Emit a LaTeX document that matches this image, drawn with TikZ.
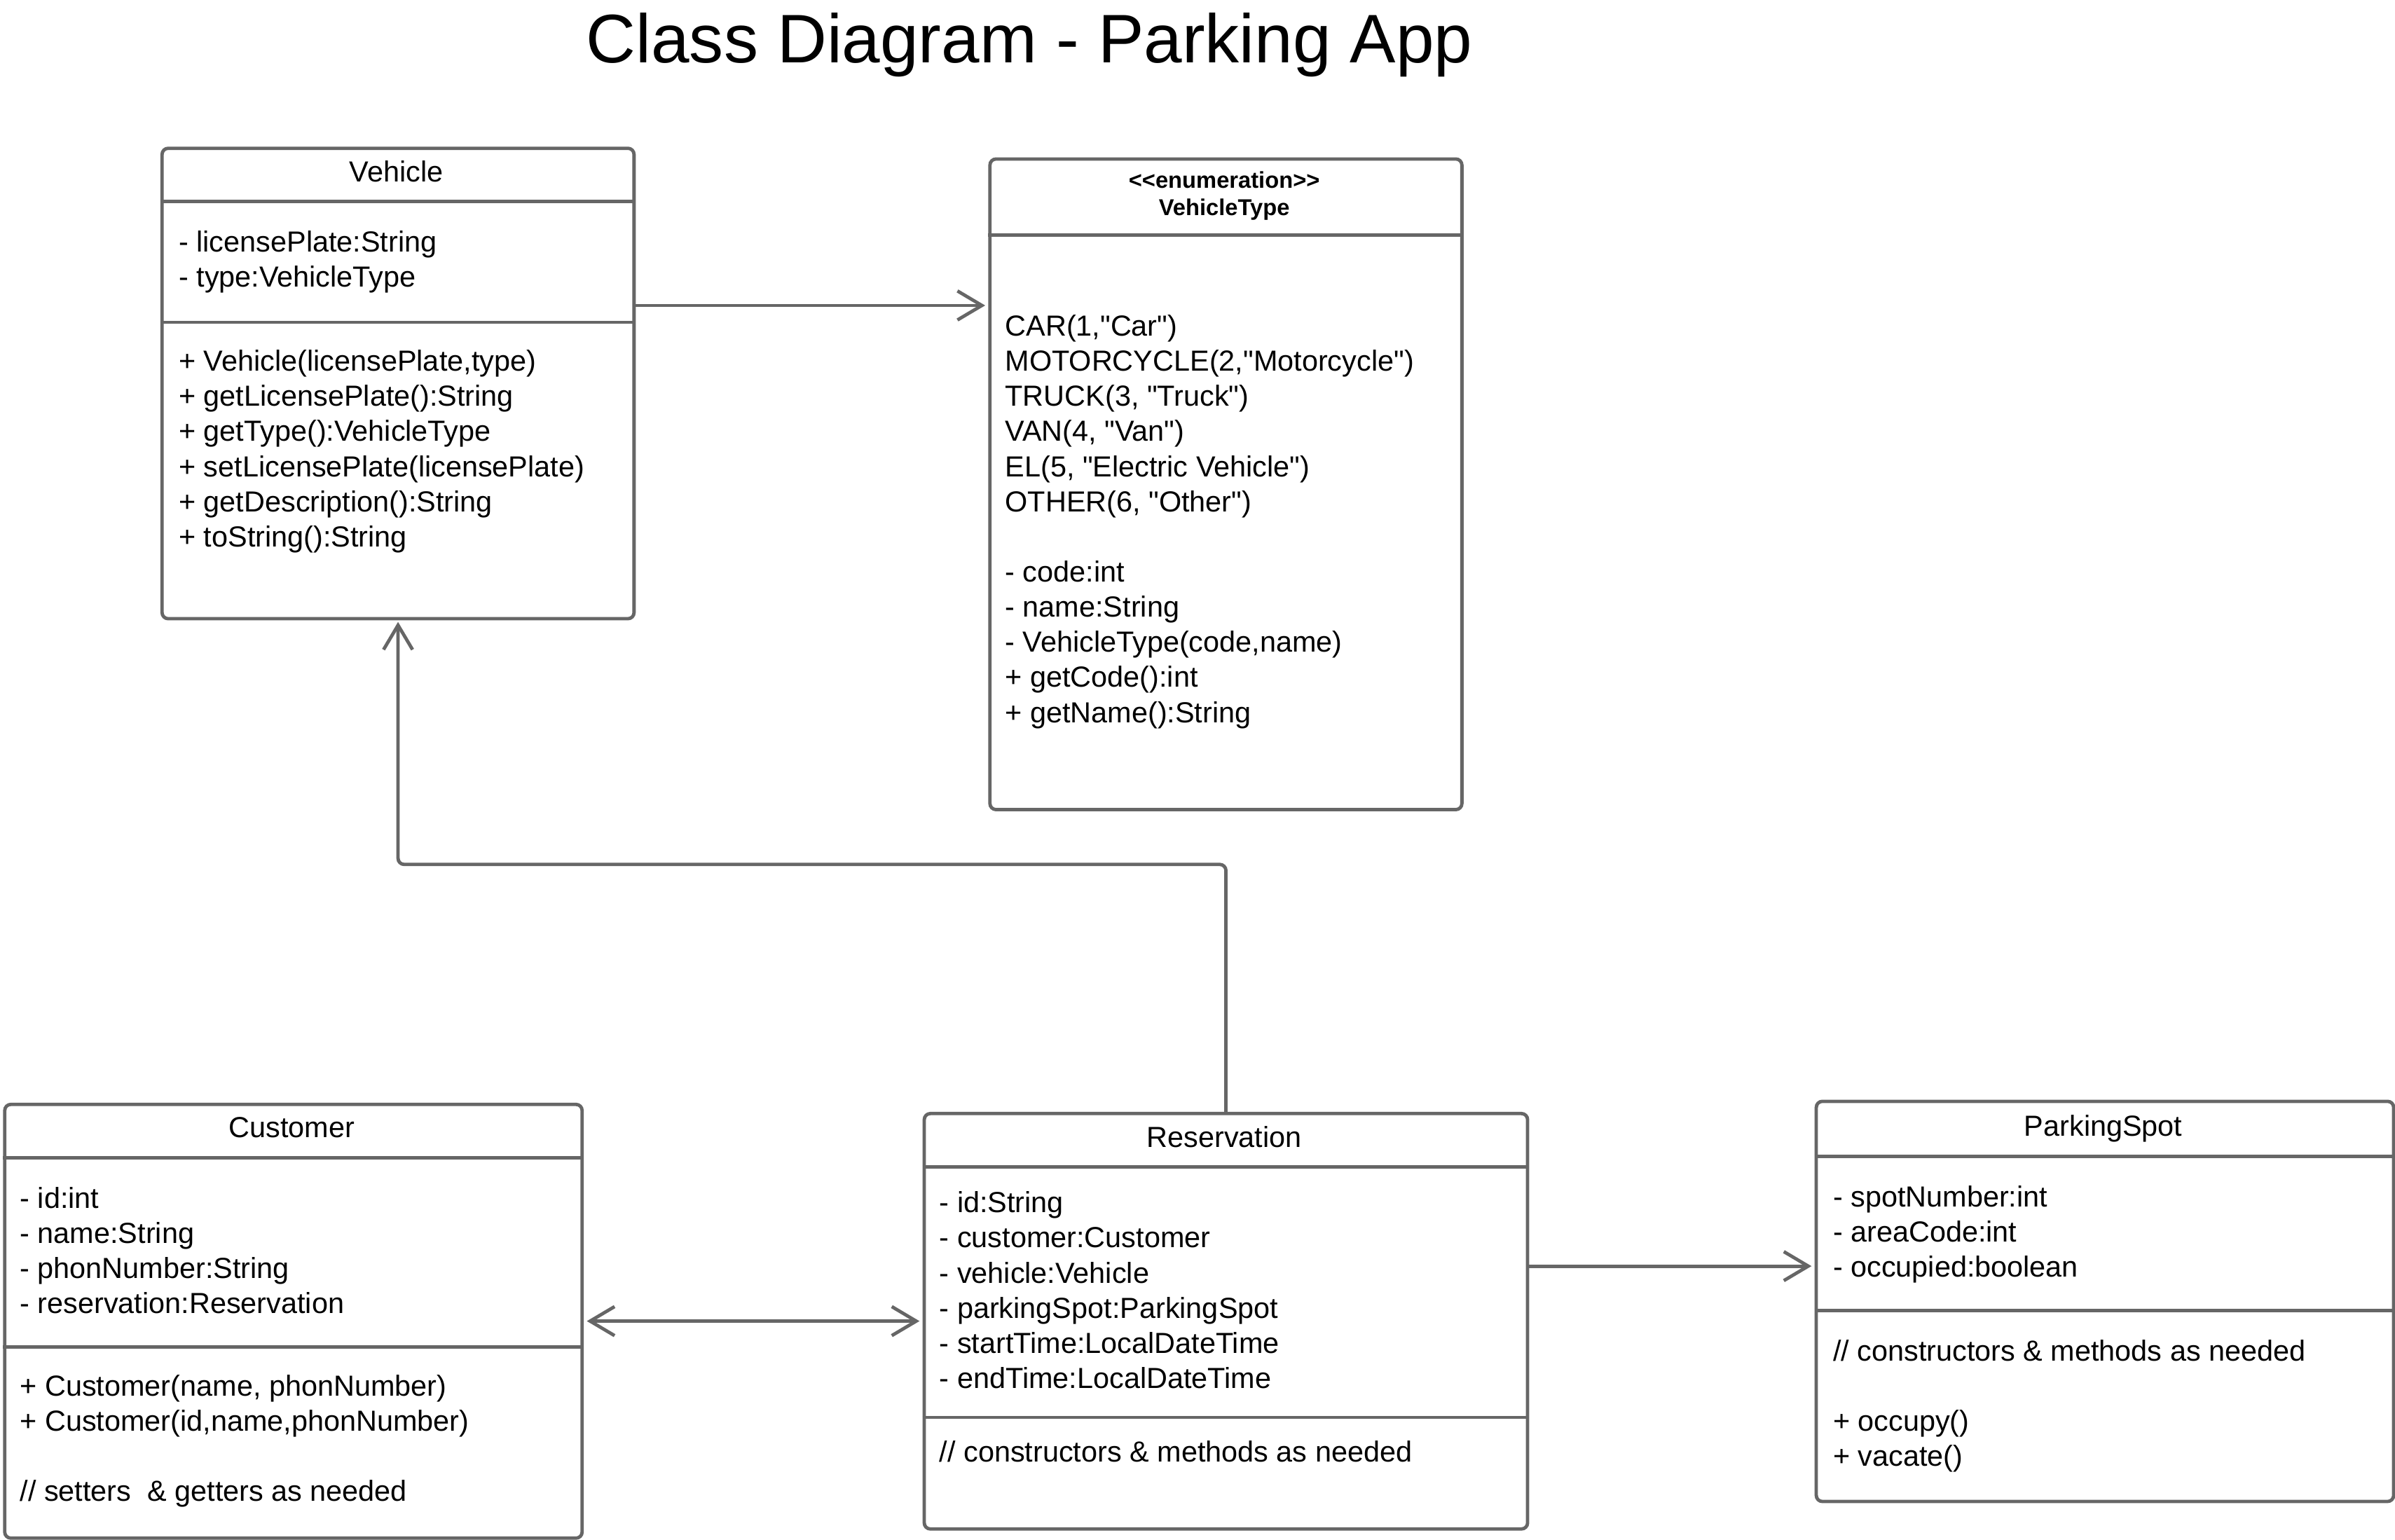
\documentclass[tikz,border=0pt]{standalone}
\usepackage{fontspec}
\setmainfont{Liberation Sans}[Ligatures=TeXOff]
\usetikzlibrary{arrows.meta}
\definecolor{ln}{HTML}{666666}
\begin{document}
\begin{tikzpicture}[x=1pt,y=-1pt,line width=2.2pt,
  box/.style={draw=ln, rounded corners=4pt, fill=white, inner sep=0pt, anchor=north west},
  txt/.style={font=\fontsize{19}{23}\selectfont, inner sep=0pt, anchor=base west},
  hdr/.style={font=\fontsize{19}{23}\selectfont, inner sep=0pt, anchor=base},
  div/.style={draw=ln},
  arr/.style={draw=ln, -{Straight Barb[length=16pt,width=19pt]}},
  darr/.style={draw=ln, {Straight Barb[length=16pt,width=19pt]}-{Straight Barb[length=16pt,width=19pt]}}]
\useasboundingbox (0,0) rectangle (1568,1008);

% title
\node[font=\fontsize{45}{54}\selectfont, inner sep=0pt, anchor=base] (title) at (674,41) {Class Diagram - Parking App};

% Vehicle
\node[box, minimum width=309pt, minimum height=308pt] (veh) at (105,96) {};
\draw[div] (veh.west |- 0,132) -- (veh.east |- 0,132);
\draw[div] (veh.west |- 0,211) -- (veh.east |- 0,211);
\node[hdr] (vehT) at (259.5,119) {Vehicle};
\foreach \t [count=\i] in {{- licensePlate:String},{- type:VehicleType}}
  \node[txt] (vehA\i) at (116,{142+23*\i}) {\t};
\foreach \t [count=\i] in {{+ Vehicle(licensePlate,type)},{+ getLicensePlate():String},{+ getType():VehicleType},{+ setLicensePlate(licensePlate)},{+ getDescription():String},{+ toString():String}}
  \node[txt] (vehM\i) at (116,{220+23*\i}) {\t};

% VehicleType
\node[box, minimum width=309pt, minimum height=426pt] (vt) at (647,103) {};
\draw[div] (vt.west |- 0,154) -- (vt.east |- 0,154);
\node[font=\bfseries\fontsize{15}{18}\selectfont, inner sep=0pt, anchor=base] (vtS) at (801.5,123) {<<enumeration>>};
\node[font=\bfseries\fontsize{15}{18}\selectfont, inner sep=0pt, anchor=base] (vtT) at (801.5,141) {VehicleType};
\foreach \t [count=\i] in {{CAR(1,"Car")},{MOTORCYCLE(2,"Motorcycle")},{TRUCK(3, "Truck")},{VAN(4, "Van")},{EL(5, "Electric Vehicle")},{OTHER(6, "Other")}}
  \node[txt] (vtA\i) at (657,{197+23*\i}) {\t};
\foreach \t [count=\i] in {{- code:int},{- name:String},{- VehicleType(code,name)},{+ getCode():int},{+ getName():String}}
  \node[txt] (vtM\i) at (657,{358+23*\i}) {\t};

% Customer
\node[box, minimum width=378pt, minimum height=284pt] (cust) at (2,722) {};
\draw[div] (cust.west |- 0,758) -- (cust.east |- 0,758);
\draw[div] (cust.west |- 0,882) -- (cust.east |- 0,882);
\node[hdr] (custT) at (191,745) {Customer};
\foreach \t [count=\i] in {{- id:int},{- name:String},{- phonNumber:String},{- reservation:Reservation}}
  \node[txt] (custA\i) at (12,{768+23*\i}) {\t};
\foreach \t [count=\i] in {{+ Customer(name, phonNumber)},{+ Customer(id,name,phonNumber)}}
  \node[txt] (custM\i) at (12,{891+23*\i}) {\t};
\node[txt] (custC) at (12,983) {// setters\ \ \& getters as needed};

% Reservation
\node[box, minimum width=395pt, minimum height=272pt] (res) at (604,728) {};
\draw[div] (res.west |- 0,764) -- (res.east |- 0,764);
\draw[div] (res.west |- 0,928) -- (res.east |- 0,928);
\node[hdr] (resT) at (801.5,751) {Reservation};
\foreach \t [count=\i] in {{- id:String},{- customer:Customer},{- vehicle:Vehicle},{- parkingSpot:ParkingSpot},{- startTime:LocalDateTime},{- endTime:LocalDateTime}}
  \node[txt] (resA\i) at (614,{771+23*\i}) {\t};
\node[txt] (resC) at (614,957) {// constructors \& methods as needed};

% ParkingSpot
\node[box, minimum width=378pt, minimum height=262pt] (ps) at (1188,720) {};
\draw[div] (ps.west |- 0,757) -- (ps.east |- 0,757);
\draw[div] (ps.west |- 0,858) -- (ps.east |- 0,858);
\node[hdr] (psT) at (1377,744) {ParkingSpot};
\foreach \t [count=\i] in {{- spotNumber:int},{- areaCode:int},{- occupied:boolean}}
  \node[txt] (psA\i) at (1199,{767+23*\i}) {\t};
\node[txt] (psC) at (1199,891) {// constructors \& methods as needed};
\node[txt] (psM1) at (1199,937) {+ occupy()};
\node[txt] (psM2) at (1199,960) {+ vacate()};

% connectors
\draw[arr, shorten >=2pt] (veh.east |- 0,200) -- (vt.west |- 0,200);
\draw[arr, rounded corners=4pt, shorten >=1pt] (res.north) -- (res.north |- 0,566) -- (veh.south |- 0,566) -- (veh.south);
\draw[darr, shorten >=2pt, shorten <=2pt] (cust.east |- 0,865) -- (res.west |- 0,865);
\draw[arr, shorten >=2pt] (res.east |- 0,829) -- (ps.west |- 0,829);
\end{tikzpicture}
\end{document}
